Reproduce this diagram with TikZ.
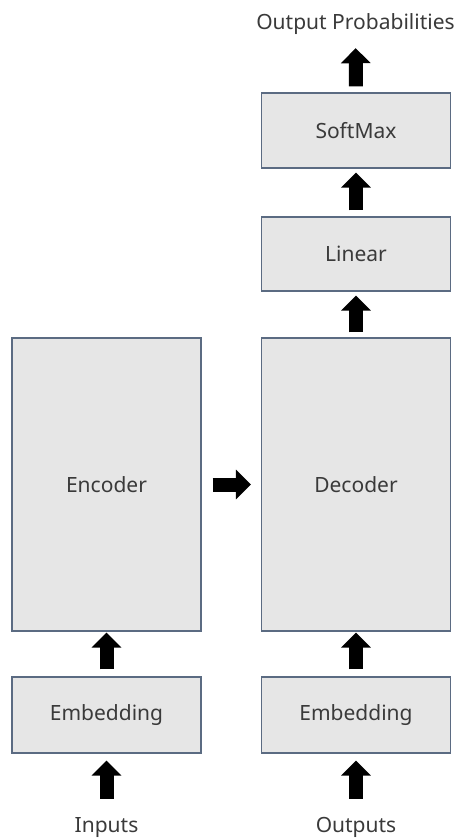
\documentclass[tikz,border=0pt]{standalone}
\usepackage{fontspec}
\setmainfont{Noto Sans}
\usetikzlibrary{arrows.meta}

\definecolor{boxfill}{HTML}{E6E6E6}
\definecolor{boxline}{HTML}{5B6B82}
\definecolor{labeltext}{HTML}{3A3A3A}

\tikzset{
  block/.style={draw=boxline, fill=boxfill, line width=1.2pt, minimum width=189pt,
    text=labeltext, font=\fontsize{21}{24}\selectfont},
  caption/.style={inner sep=0pt, text height=15pt, text depth=0pt,
    text=labeltext, font=\fontsize{21}{24}\selectfont},
  fatarrow/.style={line width=14pt, -{Triangle[width=29pt,length=15pt]}},
}

\begin{document}
\begin{tikzpicture}[x=1pt,y=-1pt]
                        \useasboundingbox (0,0) rectangle (456,838);

                        % Nodes
                        \node[caption, anchor=base] (outprob) at (355.5,29) {Output Probabilities};
                        \node[block, minimum height=75pt] (softmax) at (356,130.5) {SoftMax};
                        \node[block, minimum height=74pt] (linear) at (356,254) {Linear};
                        \node[block, minimum height=293pt] (decoder) at (356,484.5) {Decoder};
                        \node[block, minimum height=293pt] (encoder) at (106.5,484.5) {Encoder};
                        \node[block, minimum height=76pt] (emb1) at (106.5,715) {Embedding};
                        \node[block, minimum height=76pt] (emb2) at (356,715) {Embedding};
                        \node[caption, anchor=base] (inputs) at (106.5,832) {Inputs};
                        \node[caption, anchor=base] (outputs) at (356,832) {Outputs};

                        % Edges
                        \draw[fatarrow, shorten <=18pt, shorten >=7pt] (inputs.north) -- (emb1.south);
                        \draw[fatarrow, shorten <=18pt, shorten >=7pt] (outputs.north) -- (emb2.south);
                        \draw[fatarrow, shorten <=7pt, shorten >=1pt] (emb1.north) -- (encoder.south);
                        \draw[fatarrow, shorten <=7pt, shorten >=1pt] (emb2.north) -- (decoder.south);

                        \draw[fatarrow, shorten <=11pt, shorten >=10pt] (encoder.east) -- (decoder.west);

                        \draw[fatarrow, shorten <=5pt, shorten >=4pt] (decoder.north) -- (linear.south);
                        \draw[fatarrow, shorten <=6pt, shorten >=4pt] (linear.north) -- (softmax.south);
                        \draw[fatarrow, shorten <=6pt, shorten >=19pt] (softmax.north) -- (outprob.south);
                    \end{tikzpicture}
\end{document}
